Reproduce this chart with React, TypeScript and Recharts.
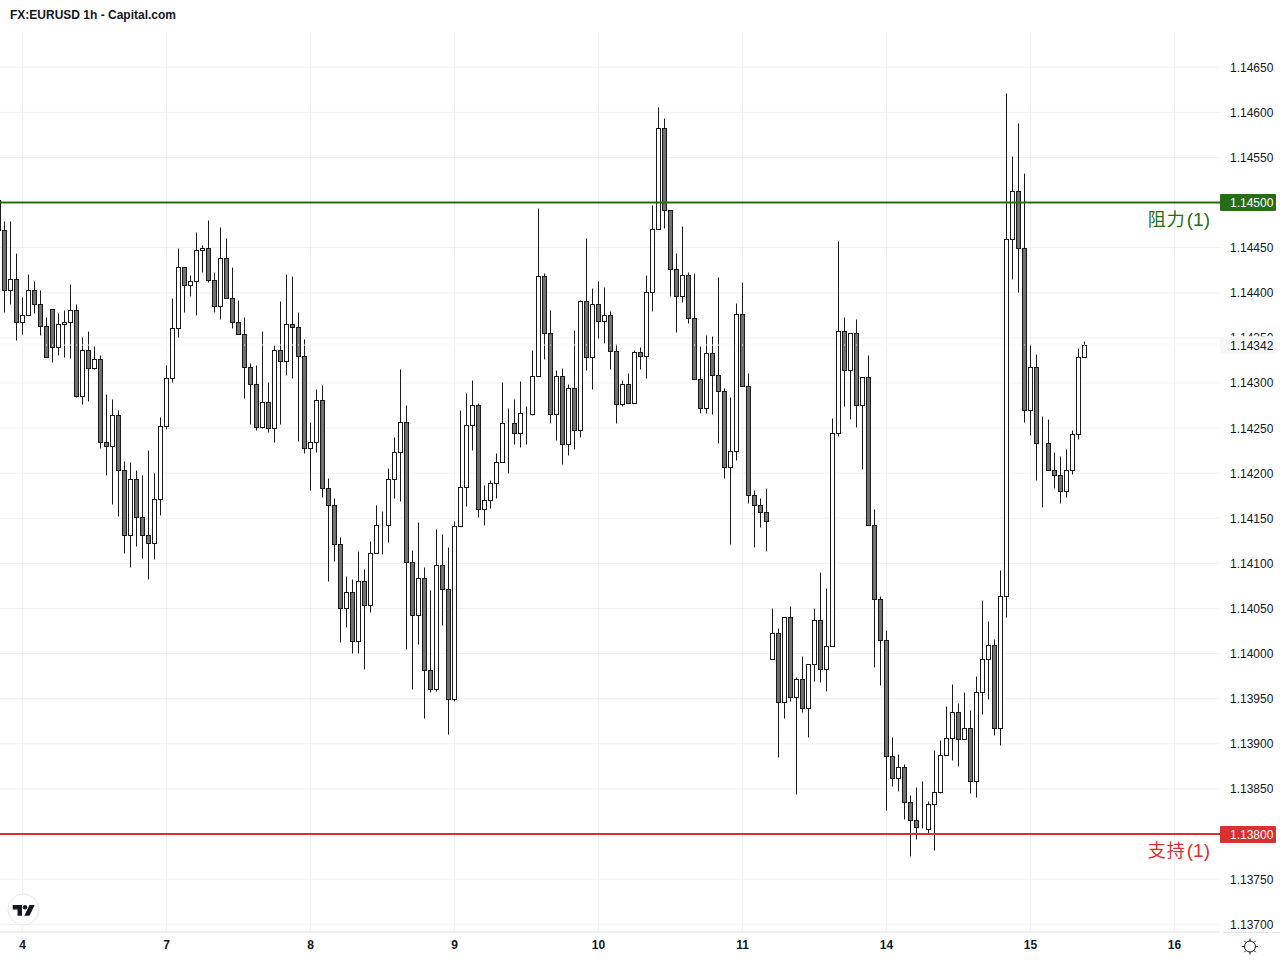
import { ComposedChart, Bar, XAxis, YAxis, CartesianGrid, ReferenceLine } from 'recharts'

// prices in 1/100000, candle -1 is cut by the left edge
const opens = [
  114503,
  114469, 114403, 114415, 114368, 114375, 114403, 114388, 114363, 114382, 114340,
  114365, 114367, 114381, 114286, 114337, 114317, 114327, 114235, 114230, 114265,
  114204, 114132, 114194, 114151, 114132, 114123, 114171, 114252, 114306, 114361,
  114429, 114409, 114413, 114447, 114450, 114414, 114385, 114438, 114394, 114367,
  114354, 114318, 114299, 114251, 114279, 114250, 114337, 114324, 114365, 114362,
  114330, 114228, 114234, 114281, 114184, 114165, 114122, 114051, 114068, 114014,
  114080, 114054, 114112, 114143, 114143, 114194, 114224, 114257, 114102, 114043,
  114084, 113982, 113961, 114098, 114072, 113950, 114141, 114185, 114253, 114275,
  114160, 114170, 114189, 114212, 114256, 114256, 114244, 114267, 114266, 114308,
  114419, 114355, 114266, 114308, 114232, 114294, 114248, 114391, 114329, 114388,
  114369, 114375, 114335, 114277, 114299, 114278, 114334, 114330, 114401, 114471,
  114583, 114492, 114426, 114396, 114420, 114372, 114304, 114272, 114333, 114309,
  114291, 114207, 114225, 114376, 114297, 114176, 114165, 114157, 113994, 114023,
  113946, 114041, 113952, 113972, 113940, 113989, 114037, 113983, 114008, 114245,
  114358, 114314, 114355, 114275, 114307, 114143, 114061, 114015, 113887, 113862,
  113874, 113835, 113815, 113807, 113806, 113833, 113847, 113888, 113906, 113935,
  113905, 113917, 113859, 113957, 113994, 114009, 113918, 114064, 114459, 114513,
  114450, 114270, 114318, 114233, 114233, 114203, 114198, 114180, 114204, 114243, 114329,
]
const closes = [
  114470,
  114403, 114415, 114368, 114375, 114403, 114388, 114363, 114329, 114340, 114365,
  114367, 114381, 114286, 114337, 114317, 114327, 114235, 114230, 114265, 114204,
  114132, 114194, 114151, 114132, 114123, 114171, 114252, 114306, 114361, 114429,
  114409, 114413, 114447, 114450, 114414, 114385, 114438, 114394, 114367, 114354,
  114318, 114299, 114251, 114279, 114250, 114337, 114324, 114365, 114362, 114330,
  114228, 114234, 114281, 114184, 114165, 114122, 114051, 114068, 114014, 114080,
  114054, 114112, 114143, 114143, 114194, 114224, 114257, 114102, 114043, 114084,
  113982, 113961, 114098, 114072, 113950, 114141, 114185, 114253, 114275, 114160,
  114170, 114189, 114212, 114256, 114256, 114244, 114267, 114267, 114308, 114419,
  114355, 114266, 114308, 114232, 114294, 114248, 114391, 114329, 114388, 114369,
  114375, 114335, 114277, 114299, 114278, 114334, 114330, 114401, 114471, 114583,
  114492, 114426, 114396, 114420, 114372, 114304, 114272, 114333, 114309, 114291,
  114207, 114225, 114376, 114297, 114176, 114165, 114157, 114147, 114023, 113946,
  114041, 113952, 113972, 113940, 113989, 114037, 113983, 114008, 114245, 114358,
  114314, 114355, 114275, 114307, 114143, 114061, 114015, 113887, 113862, 113874,
  113835, 113815, 113808, 113807, 113833, 113847, 113888, 113906, 113935, 113905,
  113917, 113859, 113957, 113994, 114009, 113918, 114064, 114459, 114513, 114450,
  114270, 114318, 114233, 114233, 114203, 114198, 114180, 114204, 114243, 114329, 114342,
]
const highs = [
  114503,
  114480, 114479, 114444, 114395, 114421, 114413, 114403, 114373, 114382, 114378,
  114381, 114410, 114388, 114351, 114358, 114341, 114331, 114288, 114282, 114270,
  114214, 114212, 114203, 114198, 114226, 114200, 114262, 114320, 114394, 114450,
  114429, 114420, 114467, 114453, 114481, 114423, 114473, 114461, 114429, 114392,
  114373, 114322, 114320, 114358, 114301, 114342, 114391, 114421, 114419, 114379,
  114349, 114257, 114293, 114298, 114195, 114173, 114129, 114086, 114083, 114114,
  114094, 114125, 114165, 114158, 114206, 114240, 114316, 114276, 114115, 114146,
  114096, 114071, 114138, 114133, 114118, 114147, 114270, 114289, 114303, 114278,
  114187, 114192, 114222, 114301, 114272, 114282, 114302, 114274, 114336, 114494,
  114422, 114381, 114314, 114317, 114299, 114359, 114392, 114461, 114405, 114413,
  114406, 114380, 114343, 114303, 114311, 114337, 114340, 114420, 114497, 114606,
  114594, 114492, 114444, 114474, 114423, 114422, 114341, 114353, 114352, 114417,
  114294, 114284, 114389, 114412, 114311, 114181, 114172, 114183, 114051, 114028,
  114041, 114053, 113974, 113997, 113989, 114051, 114090, 114073, 114261, 114457,
  114373, 114355, 114371, 114307, 114331, 114160, 114064, 114026, 113908, 113889,
  113878, 113843, 113852, 113859, 113837, 113893, 113904, 113942, 113966, 113945,
  113957, 113937, 113975, 114059, 114036, 114016, 114093, 114621, 114551, 114588,
  114533, 114343, 114332, 114263, 114260, 114224, 114219, 114227, 114248, 114339, 114346,
]
const lows = [
  114470,
  114379, 114388, 114348, 114354, 114375, 114378, 114353, 114329, 114323, 114331,
  114329, 114328, 114284, 114277, 114280, 114316, 114228, 114198, 114166, 114152,
  114112, 114096, 114119, 114106, 114083, 114105, 114154, 114249, 114301, 114351,
  114379, 114396, 114375, 114423, 114412, 114379, 114371, 114394, 114361, 114354,
  114283, 114254, 114248, 114250, 114246, 114235, 114254, 114309, 114305, 114236,
  114222, 114181, 114223, 114174, 114081, 114103, 114013, 114030, 114001, 114001,
  113983, 114046, 114112, 114110, 114124, 114173, 114169, 114005, 113961, 114011,
  113929, 113957, 113959, 114032, 113911, 113948, 114141, 114164, 114226, 114151,
  114142, 114161, 114173, 114212, 114200, 114232, 114229, 114232, 114264, 114308,
  114326, 114256, 114237, 114210, 114220, 114227, 114240, 114314, 114293, 114350,
  114344, 114315, 114256, 114274, 114278, 114278, 114316, 114305, 114380, 114471,
  114472, 114396, 114356, 114390, 114366, 114304, 114267, 114267, 114266, 114233,
  114195, 114121, 114215, 114297, 114167, 114118, 114140, 114114, 113994, 113885,
  113929, 113947, 113844, 113935, 113907, 113970, 113969, 113958, 114008, 114241,
  114274, 114260, 114251, 114205, 114143, 113985, 113965, 113827, 113853, 113848,
  113817, 113776, 113795, 113807, 113800, 113782, 113845, 113888, 113882, 113875,
  113905, 113846, 113841, 113933, 113950, 113910, 113899, 114041, 114415, 114401,
  114257, 114242, 114192, 114163, 114203, 114184, 114167, 114174, 114199, 114238, 114329,
]

const dayTicks = [3, 27, 51, 75, 99, 123, 147, 171, 195]
const dayLabels = ['4', '7', '8', '9', '10', '11', '14', '15', '16']
const priceTicks = [
  113700, 113750, 113800, 113850, 113900, 113950, 114000, 114050, 114100, 114150,
  114200, 114250, 114300, 114350, 114400, 114450, 114500, 114550, 114600, 114650,
]
const resistance = 114500
const support = 113800
const lastPrice = 114342

const data = opens.map((open, i) => ({
  index: i - 1,
  open,
  close: closes[i],
  high: highs[i],
  low: lows[i],
}))

const FONT = '"Liberation Sans", Arial, "Noto Sans CJK SC", sans-serif'
const INK = '#131722'

function Candle(props: any) {
  const { x, y, width, height, payload } = props
  const cx = Math.round(x + width / 2) - 0.5
  const h = Math.abs(height)
  const top = height < 0 ? y + height : y
  const toY = (v: number) => Math.round(top + ((payload.high - v) * h) / (payload.high - payload.low)) + 0.5
  const up = payload.close >= payload.open
  const bodyTop = toY(Math.max(payload.open, payload.close))
  const bodyBottom = toY(Math.min(payload.open, payload.close))
  return (
    <g>
      <line x1={cx} x2={cx} y1={toY(payload.high)} y2={toY(payload.low)} stroke="#1a1a1a" strokeWidth={1} />
      <rect
        x={cx - 2}
        y={bodyTop}
        width={4}
        height={bodyBottom - bodyTop}
        fill={up ? '#ffffff' : '#707070'}
        stroke="#1a1a1a"
        strokeWidth={1}
      />
    </g>
  )
}

// ticks sit above the price tags in the layer order, so hide what the tags cover
function PriceTick({ x, y, payload, textAnchor }: any) {
  const value = payload.value
  if (value === resistance || value === support) return <g />
  const label = (value / 100000).toFixed(5)
  if (value === 114350) {
    return (
      <g>
        <clipPath id="last-tag-cover">
          <rect x={x - 2} y={y - 10} width={60} height={8.5} />
        </clipPath>
        <text x={x} y={y + 4.5} fill={INK} fontSize={12} fontFamily={FONT} clipPath="url(#last-tag-cover)">
          {label}
        </text>
      </g>
    )
  }
  return (
    <text x={x} y={y + 4.5} textAnchor={textAnchor} fill={INK} fontSize={12} fontFamily={FONT}>
      {label}
    </text>
  )
}

function PriceTag({ viewBox, text, fill, color }: any) {
  const y = Math.floor(viewBox.y)
  return (
    <g>
      <rect x={1220} y={y - 8} width={56} height={17} rx={1} fill={fill} />
      <text x={1230} y={y + 5} fill={color} fontSize={12} fontFamily={FONT}>
        {text}
      </text>
    </g>
  )
}

function LevelLabel({ viewBox, price, name, color }: any) {
  return (
    <g>
      <PriceTag viewBox={viewBox} text={(price / 100000).toFixed(5)} fill={color} color="#ffffff" />
      <text x={1210} y={viewBox.y + 23} textAnchor="end" fill={color} fontSize={18} fontFamily={FONT}>
        <tspan letterSpacing={1}>{name}</tspan>
        <tspan dx={1} fontSize={19}>(1)</tspan>
      </text>
    </g>
  )
}

export default function App() {
  return (
    <div style={{ position: 'absolute', left: 0, top: 0, width: 1280, height: 960, background: '#fff', overflow: 'hidden' }}>
      <div
        style={{
          position: 'absolute', left: 10, top: 8, fontFamily: FONT, fontSize: 12, fontWeight: 700,
          color: INK, lineHeight: '15px',
        }}
      >
        FX:EURUSD 1h - Capital.com
      </div>
      <ComposedChart width={1280} height={960} data={data} margin={{ top: 32, right: 0, left: 0, bottom: 0 }}>
        <CartesianGrid stroke="#f0f1f4" strokeWidth={1} horizontalValues={priceTicks} verticalValues={dayTicks} />
        <XAxis
          dataKey="index"
          type="number"
          domain={[-0.75, 202.583]}
          allowDataOverflow
          ticks={dayTicks}
          interval={0}
          height={28}
          tickLine={false}
          tickSize={0}
          tickMargin={8}
          axisLine={{ stroke: '#e0e3eb' }}
          tick={{ fill: INK, fontSize: 12, fontFamily: FONT, fontWeight: 700 }}
          tickFormatter={(v: number) => dayLabels[dayTicks.indexOf(v)]}
        />
        <YAxis
          orientation="right"
          width={60}
          type="number"
          domain={[113691.4, 114689]}
          allowDataOverflow
          ticks={priceTicks}
          interval={0}
          tickLine={false}
          axisLine={false}
          tickSize={0}
          tickMargin={10}
          tick={<PriceTick />}
        />
        <ReferenceLine
          y={resistance}
          stroke="#266e15"
          strokeWidth={2}
          label={<LevelLabel price={resistance} name="阻力" color="#266e15" />}
        />
        <ReferenceLine
          y={support}
          stroke="#d93030"
          strokeWidth={2}
          label={<LevelLabel price={support} name="支持" color="#d93030" />}
        />
        <Bar
          dataKey={(d: any) => [d.low, d.high]}
          barSize={5}
          shape={<Candle />}
          isAnimationActive={false}
        />
        <ReferenceLine
          y={lastPrice}
          stroke="#f0f0f0"
          strokeDasharray="1 2"
          label={<PriceTag text={(lastPrice / 100000).toFixed(5)} fill="#f7f7f7" color={INK} />}
        />
        <line x1={1222} x2={1280} y1={932.5} y2={932.5} stroke="#e0e3eb" />
        <circle cx={23.5} cy={909.5} r={15.5} fill="#ffffff" stroke="#e6e6e6" />
        <path d="M12.7 905H22V915.7H17.5V909.5H12.7Z" fill="#131722" />
        <circle cx={25} cy={907.2} r={2.2} fill="#131722" />
        <path d="M29.5 905H34.7L29.5 915.7H24.3Z" fill="#131722" />
        <g stroke={INK} strokeWidth={1} fill="none">
          <circle cx={1250} cy={946.5} r={5.5} />
          <path d="M1250 938.5V941M1250 952V954.5M1242 946.5H1244.5M1255.5 946.5H1258M1244.3 940.8L1246.1 942.6M1253.9 950.4L1255.7 952.2M1255.7 940.8L1253.9 942.6M1246.1 950.4L1244.3 952.2" />
        </g>
      </ComposedChart>
    </div>
  )
}
